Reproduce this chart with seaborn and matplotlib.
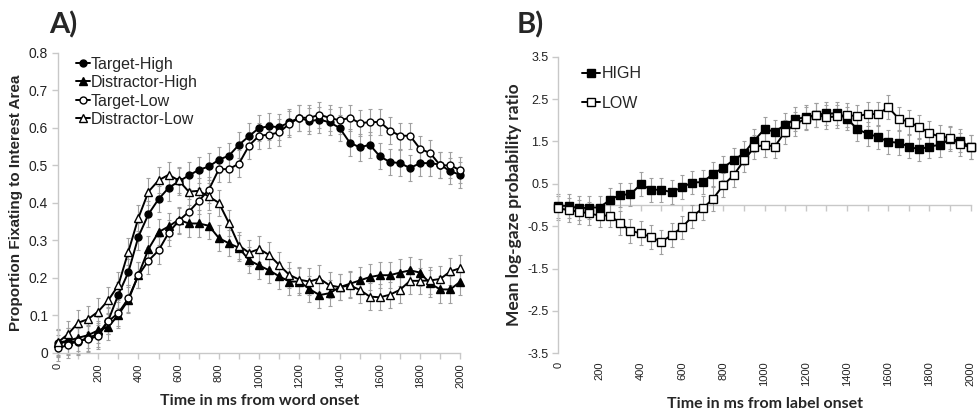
import numpy as np
import pandas as pd
import matplotlib
matplotlib.use("Agg")
import matplotlib.pyplot as plt
import seaborn as sns

# time bins (ms)
time_ms = list(range(0, 2001, 50))

# panel A - proportion fixating
target_high = [0.025, 0.03, 0.03, 0.04, 0.05, 0.086, 0.155, 0.215, 0.31, 0.37,
               0.41, 0.44, 0.457, 0.473, 0.488, 0.497, 0.515, 0.526, 0.555, 0.578,
               0.60, 0.604, 0.602, 0.615, 0.627, 0.618, 0.622, 0.615, 0.60, 0.561,
               0.548, 0.555, 0.524, 0.509, 0.506, 0.493, 0.506, 0.506, 0.502, 0.484,
               0.475]
distractor_high = [0.027, 0.032, 0.04, 0.047, 0.06, 0.069, 0.101, 0.141, 0.208, 0.277,
                   0.322, 0.337, 0.355, 0.345, 0.345, 0.339, 0.306, 0.292, 0.28, 0.247,
                   0.233, 0.22, 0.204, 0.19, 0.19, 0.17, 0.154, 0.159, 0.175, 0.184,
                   0.193, 0.202, 0.207, 0.207, 0.214, 0.22, 0.214, 0.185, 0.169, 0.169,
                   0.19]
target_low = [0.012, 0.021, 0.032, 0.036, 0.045, 0.084, 0.106, 0.145, 0.207, 0.246,
              0.273, 0.32, 0.352, 0.376, 0.405, 0.435, 0.49, 0.49, 0.505, 0.553,
              0.579, 0.582, 0.588, 0.611, 0.627, 0.627, 0.635, 0.627, 0.62, 0.627,
              0.613, 0.615, 0.616, 0.593, 0.579, 0.579, 0.544, 0.533, 0.50, 0.50,
              0.487]
distractor_low = [0.028, 0.05, 0.08, 0.09, 0.11, 0.14, 0.18, 0.27, 0.36, 0.43,
                  0.46, 0.475, 0.46, 0.43, 0.432, 0.417, 0.40, 0.346, 0.286, 0.267,
                  0.277, 0.261, 0.234, 0.208, 0.195, 0.19, 0.198, 0.18, 0.175, 0.18,
                  0.168, 0.15, 0.148, 0.155, 0.168, 0.192, 0.192, 0.193, 0.197, 0.217,
                  0.226]
err_a = 0.035

# panel B - log-gaze probability ratio
high = [-0.02, -0.02, -0.08, -0.06, -0.06, 0.12, 0.24, 0.25, 0.49, 0.36,
        0.36, 0.30, 0.42, 0.53, 0.54, 0.73, 0.88, 1.06, 1.22, 1.52,
        1.79, 1.73, 1.89, 2.03, 2.07, 2.13, 2.16, 2.16, 2.04, 1.79,
        1.68, 1.61, 1.49, 1.47, 1.38, 1.31, 1.38, 1.42, 1.55, 1.52,
        1.36]
low = [-0.08, -0.12, -0.16, -0.2, -0.25, -0.25, -0.43, -0.61, -0.67, -0.76,
       -0.87, -0.71, -0.53, -0.27, -0.08, 0.14, 0.47, 0.70, 1.05, 1.36,
       1.42, 1.38, 1.73, 1.91, 2.04, 2.13, 2.07, 2.09, 2.13, 2.09,
       2.15, 2.14, 2.31, 2.04, 1.96, 1.84, 1.70, 1.61, 1.59, 1.43,
       1.36]
err_b = 0.28

sns.set_theme(style="white")
plt.rcParams["font.family"] = ["Liberation Sans", "DejaVu Sans"]

GRID = "#c8c8c8"
ERR = "#a0a0a0"
CALIBRI = ["Lato", "DejaVu Sans"]


def draw_series(ax, x, y, err, label, marker, filled, ms):
    df = pd.DataFrame({"time": x, "value": y})
    ax.errorbar(x, y, yerr=err, fmt="none", ecolor=ERR, elinewidth=0.8,
                capsize=1.5, capthick=0.8, zorder=1, clip_on=False)
    sns.lineplot(data=df, x="time", y="value", ax=ax, color="black", lw=1.4,
                 marker=marker, ms=ms, mec="black", mew=1.0,
                 mfc="black" if filled else "white", label=label,
                 zorder=3, clip_on=False)


def style_axis(ax, xsize, ysize):
    for s in ["top", "right"]:
        ax.spines[s].set_visible(False)
    for s in ["left", "bottom"]:
        ax.spines[s].set_color(GRID)
        ax.spines[s].set_linewidth(1.0)
    ax.tick_params(axis="both", which="both", direction="out", color=GRID,
                   length=4, width=1.0, labelcolor="#222222")
    ax.tick_params(axis="y", which="both", left=True, pad=3, labelsize=ysize)
    ax.tick_params(axis="x", which="both", bottom=True, labelsize=xsize)


fig = plt.figure(figsize=(9.79, 4.2), dpi=100)

# ---------------- panel A
ax1 = fig.add_axes([0.0592, 0.160, 0.411, 0.714])
draw_series(ax1, time_ms, target_high, err_a, "Target-High", "o", True, 5)
draw_series(ax1, time_ms, distractor_high, err_a, "Distractor-High", "^", True, 5.5)
draw_series(ax1, time_ms, target_low, err_a, "Target-Low", "o", False, 5)
draw_series(ax1, time_ms, distractor_low, err_a, "Distractor-Low", "^", False, 5.5)
ax1.set_xlim(0, 2000)
ax1.set_ylim(0, 0.8)
ax1.set_xticks(range(0, 2001, 200))
ax1.set_xticks(range(0, 2001, 100), minor=True)
ax1.set_xticklabels([str(v) for v in range(0, 2001, 200)], rotation=90)
ax1.set_yticks(np.arange(0, 0.81, 0.1))
ax1.set_yticklabels(["0", "0.1", "0.2", "0.3", "0.4", "0.5", "0.6", "0.7", "0.8"])
style_axis(ax1, 8, 10)
ax1.set_xlabel("Time in ms from word onset", fontsize=11.5, fontweight="bold",
               family=CALIBRI, labelpad=4)
ax1.set_ylabel("Proportion Fixating to Interest Area", fontsize=11, fontweight="bold",
               labelpad=4)
ax1.legend(loc="upper left", bbox_to_anchor=(0.02, 1.02), frameon=False,
           fontsize=11.5, handlelength=0.9, handletextpad=0.05,
           labelspacing=0.22, borderaxespad=0.2)
fig.text(0.050, 0.94, "A)", fontsize=21, fontweight="bold",
         family=CALIBRI, va="center")

# ---------------- panel B
ax2 = fig.add_axes([0.5703, 0.159, 0.4212, 0.706])
draw_series(ax2, time_ms, high, err_b, "HIGH", "s", True, 5.5)
draw_series(ax2, time_ms, low, err_b, "LOW", "s", False, 6)
ax2.set_xlim(0, 2000)
ax2.set_ylim(-3.5, 3.5)
ax2.set_yticks(np.arange(-3.5, 3.6, 1.0))
ax2.set_yticklabels(["-3.5", "-2.5", "-1.5", "-0.5", "0.5", "1.5", "2.5", "3.5"])
ax2.set_xticks(range(0, 2001, 200))
ax2.set_xticklabels([str(v) for v in range(0, 2001, 200)], rotation=90)
style_axis(ax2, 8, 9)
ax2.spines["bottom"].set_visible(False)
ax2.tick_params(axis="x", length=0, pad=6)
# horizontal axis crossing at zero
sec = ax2.secondary_xaxis(0.5)
sec.set_xticks(range(0, 2001, 100))
sec.set_xticklabels([])
for sp in sec.spines.values():
    sp.set_color(GRID)
    sp.set_linewidth(1.0)
sec.tick_params(axis="x", which="both", bottom=True, top=False, labeltop=False,
                direction="out", color=GRID, length=4, width=1.0)
ax2.set_xlabel("Time in ms from label onset", fontsize=11.5, fontweight="bold",
               family=CALIBRI, labelpad=8)
ax2.set_ylabel("Mean log-gaze probability ratio", fontsize=12.5, fontweight="bold",
               family=CALIBRI, labelpad=4)
ax2.legend(loc="upper left", bbox_to_anchor=(0.035, 1.0), frameon=False,
           fontsize=11.5, handlelength=1.1, handletextpad=0.1,
           labelspacing=0.9, borderaxespad=0.2)
fig.text(0.528, 0.94, "B)", fontsize=21, fontweight="bold",
         family=CALIBRI, va="center")

fig.savefig("out.png", dpi=100)
